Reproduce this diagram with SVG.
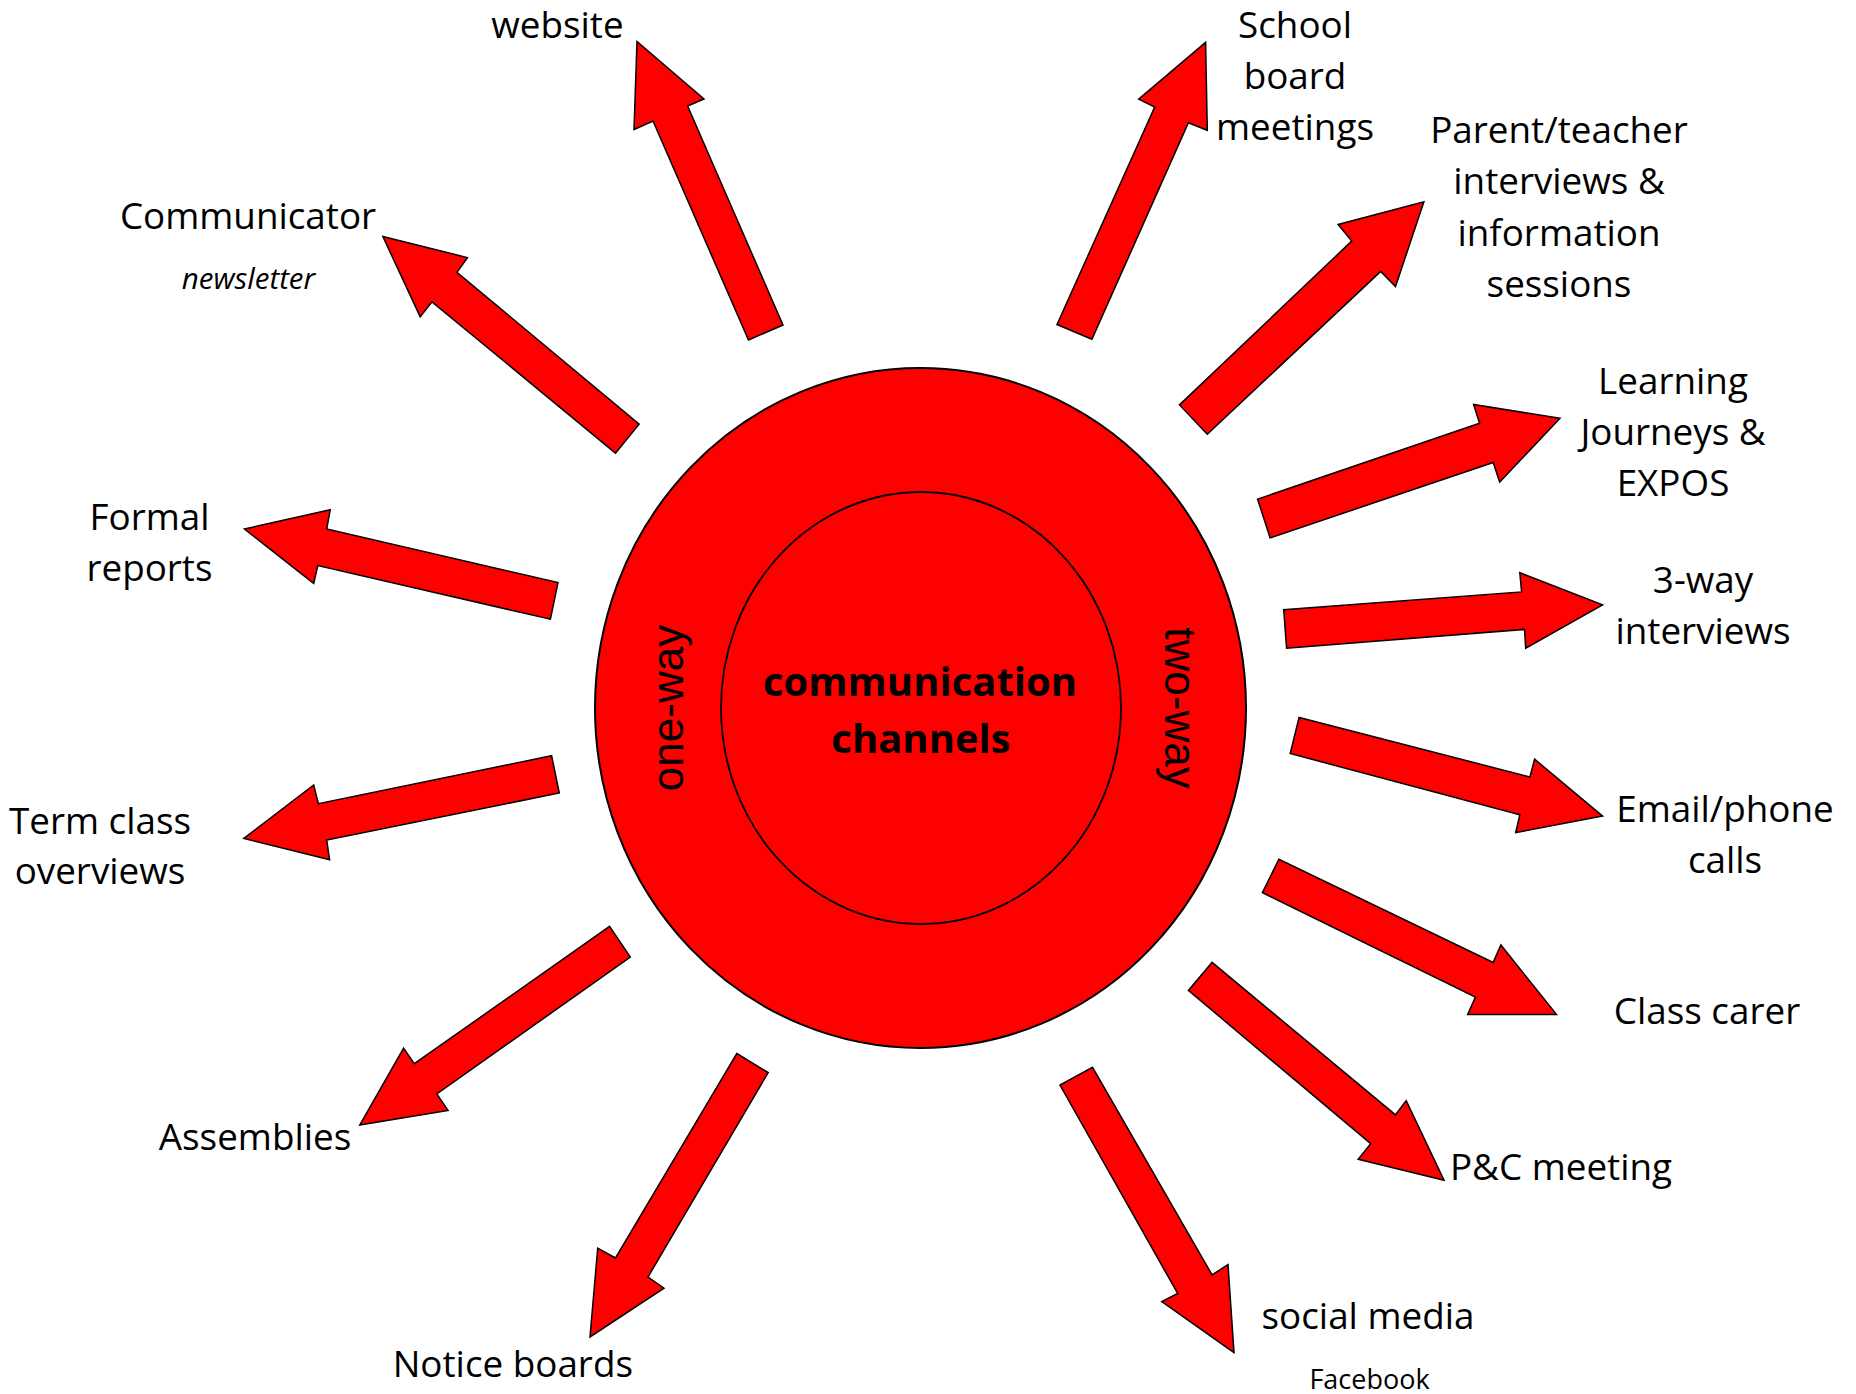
<svg xmlns="http://www.w3.org/2000/svg" width="1856" height="1394" viewBox="0 0 1856 1394">
<style>
.bg{fill:#ffffff}
.arrow{fill:#ff0000;stroke:#000000;stroke-width:1.5;stroke-linejoin:miter}
.lbl{font-family:"Open Sans","Liberation Sans",sans-serif;font-size:36.8px;fill:#000;text-anchor:middle}
.small{font-family:"Open Sans","Liberation Sans",sans-serif;font-size:27px;fill:#000;text-anchor:middle}
.it{font-style:italic;font-size:29.5px}
.ctr{font-family:"Open Sans","Liberation Sans",sans-serif;font-size:40px;font-weight:bold;fill:#000;text-anchor:middle}
.way{font-family:"Liberation Sans",Arial,sans-serif;font-size:44px;fill:#000;text-anchor:middle}
</style>
<rect class="bg" x="0" y="0" width="1856" height="1394"/>
<g id="hub">
<ellipse cx="920.5" cy="708" rx="325.5" ry="340" fill="#ff0000" stroke="#000" stroke-width="2"/>
<ellipse cx="921" cy="708" rx="200" ry="216" fill="#ff0000" stroke="#000" stroke-width="1.8"/>
<text class="ctr" x="920" y="696">communication</text>
<text class="ctr" x="921" y="753">channels</text>
<text class="way" transform="translate(682.5,708) rotate(-90)">one-way</text>
<text class="way" transform="translate(1165,708) rotate(90)">two-way</text>
</g>
<g id="connectors">
<polygon class="arrow" points="637,41.5 704,99 687.6,106 783,325 748.5,340 653,121 634,129.5"/>
<polygon class="arrow" points="382.9,236.6 467.5,257.6 456.9,272.3 639.1,424.1 615.5,453.1 432,301.8 420.2,316.9"/>
<polygon class="arrow" points="244.4,529 330.2,509.8 326.7,529 558,582.6 550.4,619.2 317.8,565.6 313.7,583.5"/>
<polygon class="arrow" points="243.8,838.4 313.7,785 318.4,803.7 551.6,755.7 559.3,793 326.7,840.1 329.6,859.7"/>
<polygon class="arrow" points="609.6,926.4 630.3,957 436.8,1094 448,1110.4 359.8,1125 403.6,1048.2 414.3,1063.7"/>
<polygon class="arrow" points="736.8,1053.5 768.2,1072.6 648,1277 664,1288.2 590,1337 597.7,1248.2 615.5,1258"/>
<polygon class="arrow" points="1205.6,42.4 1207.3,130.3 1188.4,122.8 1091.9,339.3 1057,324.5 1154.7,107.1 1138.7,99.1"/>
<polygon class="arrow" points="1423.9,201.8 1395.5,286.6 1380.7,271.4 1207.3,434.3 1179.5,404.9 1351.7,241.1 1338.1,224.5"/>
<polygon class="arrow" points="1560,418.3 1499.7,482.1 1493.2,462.5 1270.1,537.9 1257.6,499.1 1479.6,423.2 1473.6,404.5"/>
<polygon class="arrow" points="1602.6,604.9 1525.7,648.2 1524.5,629.4 1286.6,648.2 1283.7,609.8 1521.6,591.9 1519.8,572.7"/>
<polygon class="arrow" points="1602.6,816.1 1515.7,832.6 1519.8,814.8 1290.2,753.5 1299.1,717.4 1529.9,777 1534.6,759.2"/>
<polygon class="arrow" points="1556.5,1014.4 1467.7,1014.4 1475.4,997 1262.4,892.6 1278.9,859.2 1493.2,962.4 1500.9,945"/>
<polygon class="arrow" points="1444,1180.2 1358.2,1159.3 1370.7,1143.7 1188.4,990.4 1212.1,962.4 1395.5,1114.8 1406.2,1100.6"/>
<polygon class="arrow" points="1234,1352.6 1161.8,1301.5 1177.7,1293.5 1060,1085 1092.5,1067.3 1212.1,1274.9 1228,1264.6"/>
</g>
<g id="website"><text class="lbl" x="557.5" y="38">website</text></g>
<g id="communicator"><text class="lbl" x="248" y="229">Communicator</text><text class="small it" x="248.5" y="288.5">newsletter</text></g>
<g id="formal-reports"><text class="lbl" x="149.5" y="530">Formal</text><text class="lbl" x="149.5" y="581">reports</text></g>
<g id="term-class"><text class="lbl" x="100" y="834">Term class</text><text class="lbl" x="100" y="884">overviews</text></g>
<g id="assemblies"><text class="lbl" x="255" y="1149.5">Assemblies</text></g>
<g id="notice-boards"><text class="lbl" x="512.8" y="1377">Notice boards</text></g>
<g id="school-board"><text class="lbl" x="1295" y="38">School</text><text class="lbl" x="1295" y="89">board</text><text class="lbl" x="1295" y="140">meetings</text></g>
<g id="parent-teacher"><text class="lbl" x="1559" y="143">Parent/teacher</text><text class="lbl" x="1559" y="194">interviews &amp;</text><text class="lbl" x="1559" y="245.5">information</text><text class="lbl" x="1559" y="297">sessions</text></g>
<g id="learning-journeys"><text class="lbl" x="1673" y="394">Learning</text><text class="lbl" x="1673" y="444.5">Journeys &amp;</text><text class="lbl" x="1673" y="495.5">EXPOS</text></g>
<g id="three-way"><text class="lbl" x="1703" y="593">3-way</text><text class="lbl" x="1703" y="644">interviews</text></g>
<g id="email-phone"><text class="lbl" x="1725" y="822">Email/phone</text><text class="lbl" x="1725" y="873">calls</text></g>
<g id="class-carer"><text class="lbl" x="1707" y="1024">Class carer</text></g>
<g id="pc-meeting"><text class="lbl" x="1561" y="1180">P&amp;C meeting</text></g>
<g id="social-media"><text class="lbl" x="1368" y="1329">social media</text><text class="small" x="1369.5" y="1389">Facebook</text></g>
</svg>
